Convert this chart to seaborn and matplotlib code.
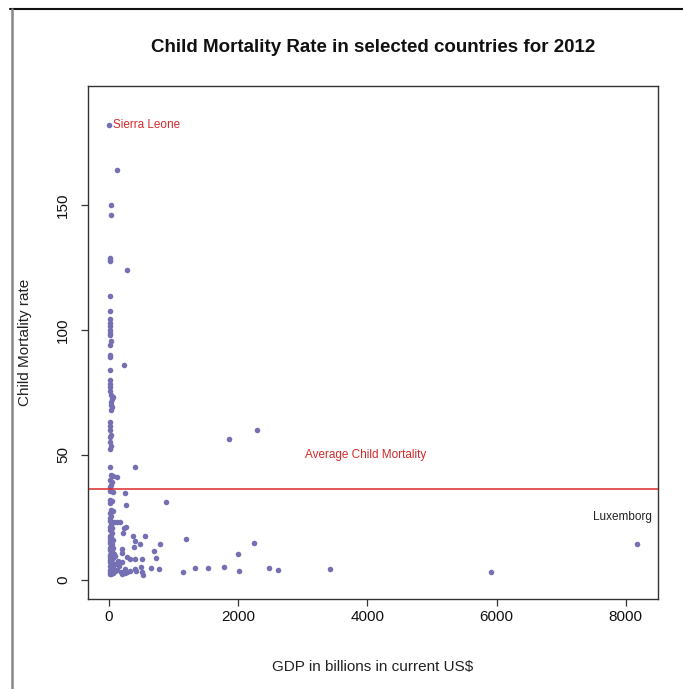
import numpy as np
import matplotlib
matplotlib.use("Agg")
import matplotlib.pyplot as plt
from matplotlib.lines import Line2D
import seaborn as sns

# -------------------------
# Data
# -------------------------
gdp = [
    0, 125, 25, 25, 15, 15, 15, 275, 15, 20,
    15, 15, 20, 15, 15, 20, 25, 20, 15, 20,
    230, 15, 15, 20, 15, 20, 30, 60, 40, 25,
    35, 45, 30, 15, 20, 15, 25, 15, 20, 25,
    20, 1850, 2290, 15, 400, 30, 60, 120, 20, 45,
    30, 10, 15, 60, 240, 10, 45, 20, 260, 880,
    25, 60, 10, 30, 15, 20, 80, 120, 170, 35,
    10, 50, 230, 270, 15, 210, 40, 10, 30, 375,
    565, 15, 60, 1185, 400, 20, 10, 50, 480, 790,
    2250, 8170, 30, 385, 15, 60, 195, 700, 10, 40,
    25, 195, 2000, 70, 15, 45, 90, 275, 20, 60,
    720, 325, 395, 510, 10, 35, 140, 200, 15, 50,
    100, 25, 10, 150, 60, 500, 30, 240, 400, 645,
    780, 1330, 1540, 1780, 2480, 2615, 3420, 15, 45, 90,
    130, 180, 280, 325, 420, 505, 530, 1140, 2010, 5910,
    20, 60, 10, 35, 250, 200,
]
mortality = [
    182, 164, 150, 146, 129, 128, 127.5, 124, 113.5, 107.5,
    104.5, 103, 101.5, 100, 99, 98, 95.5, 94, 90, 89,
    86, 84, 80, 78.5, 77, 75.5, 74, 73, 72.5, 71,
    70, 69, 68, 63, 61.5, 60, 58, 57, 55, 53.5,
    52.5, 56.3, 59.8, 45, 45, 42, 41.5, 41, 40, 39,
    38, 37, 35.5, 35.2, 34.5, 32, 31.5, 30.5, 30, 31,
    28, 27.5, 26.5, 25.5, 24.5, 23.5, 23, 23, 23, 22,
    21, 20.5, 20.5, 21, 19.8, 18.5, 18.5, 17.5, 17, 17.5,
    17.5, 16.5, 16, 16.2, 15.5, 15.3, 14.5, 14.2, 14.2, 14.2,
    14.6, 14.2, 13.5, 13, 12.8, 12.5, 12.2, 11.5, 11.8, 11.3,
    10.8, 10.6, 10.3, 10.2, 10, 9.6, 9.5, 9, 9, 8.6,
    8.6, 8.2, 8.2, 8.2, 8, 7.5, 7.5, 7, 7, 6.5,
    6.3, 6, 5.5, 5.6, 5.2, 5, 4.8, 4.3, 4.2, 4.6,
    4.1, 4.5, 4.7, 5, 4.6, 3.9, 4.2, 4, 3.6, 3.5,
    3.8, 3.2, 3, 3.5, 3.5, 2.9, 1.8, 3, 3.5, 3,
    3, 2.5, 2.2, 2.4, 2.6, 2.2,
]

avg_mortality = 36.2
labels = ["Sierra Leone", "Average Child Mortality", "Luxemborg"]

# -------------------------
# Plot
# -------------------------
sns.set_style("white")
plt.rcParams["font.family"] = ["Liberation Sans", "DejaVu Sans"]

fig = plt.figure(figsize=(6.83, 6.89), dpi=100)
ax = fig.add_axes([88 / 683, 90 / 689, 570 / 683, 513 / 689])

sns.scatterplot(x=gdp, y=mortality, color="#7570b3", s=16, linewidth=0, ax=ax)
ax.axhline(avg_mortality, color="#dd2a2a", linewidth=1.1)

ax.text(62, 182, labels[0], color="#d42a2a", fontsize=8.5, ha="left", va="center")
ax.text(3970, 49.8, labels[1], color="#d42a2a", fontsize=8.5, ha="center", va="center")
ax.text(7950, 25, labels[2], color="#222222", fontsize=8.5, ha="center", va="center")

ax.set_xlim(-325, 8498)
ax.set_ylim(-7.8, 197.8)
ax.set_xticks([0, 2000, 4000, 6000, 8000])
ax.set_yticks([0, 50, 100, 150])
ax.set_yticklabels(["0", "50", "100", "150"], rotation=90, va="center")

for s in ax.spines.values():
    s.set_color("#333333")
    s.set_linewidth(1.0)
ax.tick_params(axis="both", direction="out", length=5, width=0.9,
               color="#333333", labelsize=11, labelcolor="#111111",
               bottom=True, left=True)
ax.tick_params(axis="x", pad=3)
ax.tick_params(axis="y", pad=8)

ax.set_xlabel("GDP in billions in current US$", fontsize=11, color="#222222", labelpad=26)
ax.set_ylabel("Child Mortality rate", fontsize=11, color="#222222", labelpad=17)
fig.text(373 / 683, 1 - 47 / 689, "Child Mortality Rate in selected countries for 2012",
         fontsize=13.5, fontweight="bold", ha="center", va="center", color="#111111")

# window border from the screenshot
fig.add_artist(Line2D([10 / 683, 1], [1 - 9 / 689, 1 - 9 / 689], color="#111111", linewidth=1.5))
fig.add_artist(Line2D([12 / 683, 12 / 683], [0, 1 - 9 / 689], color="#888888", linewidth=1.8))

fig.savefig("out.png", dpi=100)
